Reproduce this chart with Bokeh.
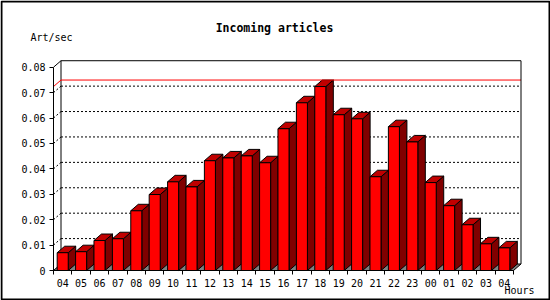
from bokeh.plotting import figure
from bokeh.models import Range1d, FixedTicker, Label, LinearAxis
from bokeh.embed import file_html
from bokeh.resources import INLINE

# ---------------- data ----------------
hours = ["04", "05", "06", "07", "08", "09", "10", "11", "12", "13", "14", "15",
         "16", "17", "18", "19", "20", "21", "22", "23", "00", "01", "02", "03", "04"]
values = [0.0070, 0.0074, 0.0118, 0.0125, 0.0235, 0.0299, 0.0349, 0.0329, 0.0432,
          0.0443, 0.0451, 0.0424, 0.0558, 0.0660, 0.0724, 0.0613, 0.0597, 0.0369,
          0.0566, 0.0506, 0.0346, 0.0255, 0.0180, 0.0105, 0.0089]
y_ticks = [0, 0.01, 0.02, 0.03, 0.04, 0.05, 0.06, 0.07, 0.08]
y_tick_labels = ["0", "0.01", "0.02", "0.03", "0.04", "0.05", "0.06", "0.07", "0.08"]
title_text = "Incoming articles"
y_label = "Art/sec"
x_label = "Hours"

# ---------------- layout ----------------
W, H = 550, 300
X0, Y0 = 53, 270            # pixel position of the front axes corner
SX = 18.4                   # px per bar slot
SY = 2541.0                 # px per unit of value
DX, DY = 7.5 / SX, 6.5 / SY # 3D depth in data units
BW = 0.6                    # bar front width (slot fraction)
N = len(values)
YMAX = y_ticks[-1]

def px_x(px):
    return (px - X0) / SX

def px_y(py):
    return (Y0 - py) / SY

p = figure(width=W, height=H,
           x_range=Range1d(px_x(0), px_x(W)), y_range=Range1d(px_y(H), px_y(0)),
           output_backend="svg", toolbar_location=None,
           x_axis_location=None, y_axis_location=None,
           min_border=0, background_fill_color="white", border_fill_color="white")
p.outline_line_color = None
p.title.visible = False
for g in p.grid:
    g.visible = False

# outer border of the picture
p.quad(left=px_x(1), right=px_x(W - 1), bottom=px_y(H - 1), top=px_y(1),
       fill_color=None, line_color="black", line_width=2)

# back wall fill
p.quad(left=DX, right=N + DX, bottom=DY, top=YMAX + DY, fill_color="white", line_color=None)

# back wall left edge (hidden behind first bar at the bottom)
p.segment(x0=[DX], y0=[DY], x1=[DX], y1=[YMAX + DY], line_color="black", line_width=1)

# dotted grid lines on the walls
inner = y_ticks[1:-1]
p.segment(x0=[0] * len(inner), y0=inner, x1=[DX] * len(inner), y1=[t + DY for t in inner],
          line_color="black", line_width=1, line_dash="2 2")
p.segment(x0=[DX] * len(inner), y0=[t + DY for t in inner],
          x1=[N + DX] * len(inner), y1=[t + DY for t in inner],
          line_color="black", line_width=1, line_dash="2 2")

# floor
p.patch([0, N, N + DX, DX], [0, 0, DY, DY], fill_color="#808080",
        line_color="black", line_width=1)

# bars
lefts = [i + (1 - BW) / 2 for i in range(N)]
rights = [l + BW for l in lefts]
side_x = [[r, r + DX, r + DX, r] for r in rights]
side_y = [[0, DY, v + DY, v] for v in values]
top_x = [[l, r, r + DX, l + DX] for l, r in zip(lefts, rights)]
top_y = [[v, v, v + DY, v + DY] for v in values]
p.patches(side_x, side_y, fill_color="#800000", line_color="black", line_width=1)
p.patches(top_x, top_y, fill_color="#c00000", line_color="black", line_width=1)
p.quad(left=lefts, right=rights, bottom=0, top=values, fill_color="#ff0000",
       line_color="black", line_width=1)

# maximum line (red), drawn after the bars
vmax = max(values)
p.segment(x0=[0, DX], y0=[vmax, vmax + DY], x1=[DX, N + DX], y1=[vmax + DY, vmax + DY],
          line_color="#ff0000", line_width=1)

# remaining wall outlines: top edges and right edge
p.segment(x0=[0, DX, N + DX], y0=[YMAX, YMAX + DY, YMAX + DY],
          x1=[DX, N + DX, N + DX], y1=[YMAX + DY, YMAX + DY, DY],
          line_color="black", line_width=1)

# axes at the front edges
centers = [i + 0.5 for i in range(N)]
xa = LinearAxis(fixed_location=0)
xa.ticker = FixedTicker(ticks=centers, minor_ticks=list(range(N + 1)))
xa.major_label_overrides = {c: h for c, h in zip(centers, hours)}
xa.bounds = (0, N)
xa.major_tick_out = 0
xa.major_tick_in = 0
xa.minor_tick_out = 4
xa.minor_tick_in = 0
xa.minor_tick_line_color = "black"
xa.axis_line_color = "black"
xa.major_label_standoff = 4
xa.major_label_text_font = "DejaVu Sans Mono"
xa.major_label_text_font_size = "10px"
xa.major_label_text_color = "black"
p.add_layout(xa, "below")

ya = LinearAxis(fixed_location=0)
ya.ticker = FixedTicker(ticks=y_ticks, minor_ticks=[])
ya.major_label_overrides = {t: s for t, s in zip(y_ticks, y_tick_labels)}
ya.bounds = (0, YMAX)
ya.major_tick_out = 4
ya.major_tick_in = 0
ya.minor_tick_out = 0
ya.minor_tick_in = 0
ya.axis_line_color = "black"
ya.major_tick_line_color = "black"
ya.major_label_standoff = 4
ya.major_label_text_font = "DejaVu Sans Mono"
ya.major_label_text_font_size = "10px"
ya.major_label_text_color = "black"
p.add_layout(ya, "left")

# texts
p.add_layout(Label(x=px_x(274), y=px_y(27), text=title_text, text_align="center",
                   text_baseline="alphabetic", text_font="DejaVu Sans Mono",
                   text_font_style="bold", text_font_size="11.5px", text_color="black"))
p.add_layout(Label(x=px_x(30), y=px_y(37), text=y_label, text_align="left",
                   text_baseline="alphabetic", text_font="DejaVu Sans Mono",
                   text_font_size="10px", text_color="black"))
p.add_layout(Label(x=px_x(504), y=px_y(290), text=x_label, text_align="left",
                   text_baseline="alphabetic", text_font="DejaVu Sans Mono",
                   text_font_size="10px", text_color="black"))

open("out.html", "w").write(file_html(p, INLINE))
